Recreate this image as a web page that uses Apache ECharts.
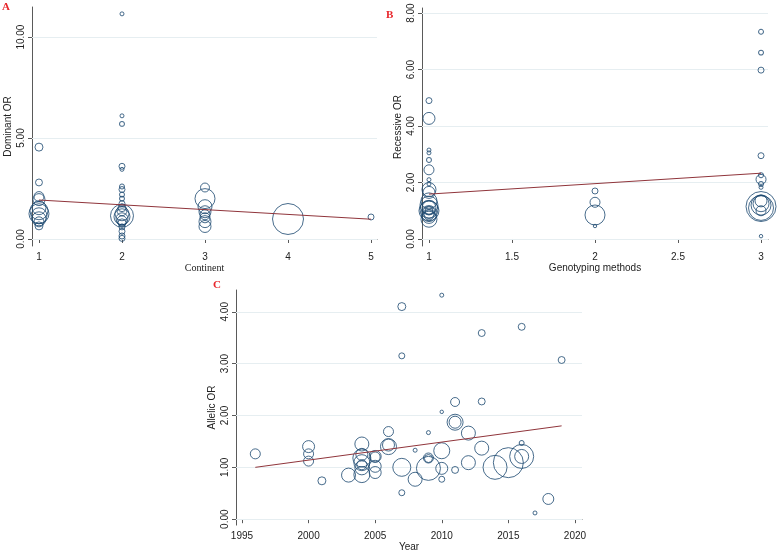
<!DOCTYPE html>
<html>
<head>
<meta charset="utf-8">
<title>Meta-regression bubble plots</title>
<script src="https://cdn.jsdelivr.net/npm/echarts@6/dist/echarts.min.js"></script>
<style>
  html, body { margin: 0; padding: 0; background: #fff; }
  #chart { width: 778px; height: 553px; }
</style>
</head>
<body>
<div id="chart"></div>
<script>
// 数据: A 面板 (Continent vs Dominant OR)
var contX = [1, 1, 1, 1, 1, 1, 1, 1, 1, 1, 1,
  2, 2, 2, 2, 2, 2, 2, 2, 2, 2, 2, 2, 2, 2, 2, 2, 2, 2, 2, 2, 2, 2,
  3, 3, 3, 3, 3, 3, 3, 3,
  4, 5];
var domOR = [4.55, 2.8, 2.1, 1.95, 1.55, 1.4, 1.25, 1.15, 1.0, 0.85, 0.65,
  11.15, 6.1, 5.7, 3.6, 3.45, 2.6, 2.45, 2.2, 2.0, 1.75, 1.55, 1.4, 1.25, 1.15, 1.1, 1.0, 0.9, 0.8, 0.6, 0.38, 0.15, 0.03,
  2.55, 2.0, 1.6, 1.35, 1.2, 1.05, 0.86, 0.62,
  0.99, 1.09];
var domW = [16, 12, 25, 36, 49, 81, 100, 64, 49, 25, 16,
  4, 4, 6, 9, 4, 6, 9, 6, 6, 9, 16, 25, 49, 132, 64, 36, 25, 16, 9, 9, 9, 9,
  20, 100, 49, 36, 25, 25, 36, 36,
  240, 9];
var domLine = [[1, 1.93], [5, 0.98]];

// 数据: B 面板 (Genotyping methods vs Recessive OR)
var genoX = [1, 1, 1, 1, 1, 1, 1, 1, 1, 1, 1, 1, 1, 1, 1, 1, 1, 1, 1, 1, 1,
  2, 2, 2, 2,
  3, 3, 3, 3, 3, 3, 3, 3, 3, 3, 3, 3, 3, 3, 3];
var recOR = [4.9, 4.27, 3.15, 3.05, 2.8, 2.45, 2.1, 1.95, 1.75, 1.65, 1.35, 1.2, 1.1, 1.05, 1.0, 0.95, 0.9, 0.85, 0.8, 0.7, 1.0,
  1.7, 1.3, 0.85, 0.46,
  7.34, 6.6, 5.98, 2.95, 2.26, 2.11, 1.95, 1.83, 1.15, 1.1, 1.2, 1.25, 1.0, 1.35, 0.1];
var recW = [9, 36, 4, 4, 6, 25, 4, 4, 49, 36, 64, 81, 49, 81, 100, 36, 64, 25, 49, 64, 16,
  9, 25, 100, 3,
  6, 6, 9, 9, 6, 25, 6, 4, 225, 156, 100, 64, 25, 36, 3];
var recLine = [[1, 1.59], [3, 2.33]];

// 数据: C 面板 (Year vs Allelic OR)
var yearX = [1996, 2000, 2000, 2000, 2001, 2003,
  2004, 2004, 2004, 2004, 2004, 2004, 2004,
  2005, 2005, 2005, 2005, 2006, 2006, 2006,
  2007, 2007, 2007, 2007, 2008, 2008,
  2009, 2009, 2009, 2009, 2010, 2010, 2010, 2010, 2010,
  2011, 2011, 2011, 2011, 2012, 2012, 2013, 2013, 2013,
  2014, 2015, 2016, 2016, 2016, 2016, 2017, 2018, 2019];
var alleOR = [1.26, 1.40, 1.26, 1.12, 0.74, 0.85,
  1.45, 1.18, 1.09, 0.99, 0.86, 1.25, 1.05,
  1.21, 1.02, 0.9, 1.2, 1.69, 1.40, 1.43,
  4.10, 3.15, 1.00, 0.51, 1.33, 0.77,
  1.67, 1.18, 1.17, 0.98, 4.32, 2.07, 1.32, 0.98, 0.77,
  2.26, 1.87, 1.87, 0.95, 1.66, 1.09, 3.59, 2.27, 1.37,
  1.00, 1.09, 3.71, 1.47, 1.21, 1.21, 0.12, 0.39, 3.07];
var alleW = [25, 36, 25, 25, 16, 49,
  49, 81, 64, 49, 64, 36, 25,
  36, 36, 36, 25, 25, 64, 36,
  16, 9, 81, 9, 4, 49,
  4, 25, 16, 144, 4, 3, 64, 36, 9,
  20, 64, 36, 12, 49, 49, 12, 12, 49,
  144, 225, 12, 6, 144, 49, 4, 30, 12];
var alleLine = [[1996, 1.0], [2019, 1.80]];

// 刻度
var domTicks = [0, 5, 10];
var recTicks = [0, 2, 4, 6, 8];
var alleTicks = [0, 1, 2, 3, 4];
var contTicks = [1, 2, 3, 4, 5];
var genoTicks = [1, 1.5, 2, 2.5, 3];
var yearTicks = [1995, 2000, 2005, 2010, 2015, 2020];

var BLUE = '#1a476f';
var RED = '#90353b';
var GRID = '#e6eef1';
var AXIS = '#5a5a5a';
var SANS = "'Liberation Sans', Arial, sans-serif";
var SERIF = "'Liberation Serif', 'Times New Roman', serif";

// 合并数组
var zip = function (xs, ys, ws) {
  var out = [];
  for (var i = 0; i < xs.length; i++) {
    out.push([xs[i], ys[i], ws[i]]);
  }
  return out;
};

// X 轴
var makeX = function (idx, min, max, ticks, name, nameFont) {
  return {
    type: 'value', gridIndex: idx, min: min, max: max,
    name: name, nameLocation: 'middle', nameGap: 16,
    nameTextStyle: { fontFamily: nameFont, fontSize: 10, color: '#222' },
    axisLine: { lineStyle: { color: AXIS, width: 1 } },
    axisTick: { customValues: ticks, length: 4, lineStyle: { color: AXIS } },
    axisLabel: {
      customValues: ticks, margin: 6, fontFamily: SANS, fontSize: 10, color: '#222',
      formatter: function (v) { return String(v); }
    },
    splitLine: { show: false }
  };
};

// Y 轴
var makeY = function (idx, min, max, ticks, name) {
  return {
    type: 'value', gridIndex: idx, min: min, max: max,
    name: name, nameLocation: 'middle', nameGap: 19, nameRotate: 90,
    nameTextStyle: { fontFamily: SANS, fontSize: 10, color: '#222' },
    axisLine: { lineStyle: { color: AXIS, width: 1 } },
    axisTick: { customValues: ticks, length: 4, lineStyle: { color: AXIS } },
    axisLabel: {
      customValues: ticks, rotate: 90, margin: 6, align: 'center', verticalAlign: 'bottom',
      fontFamily: SANS, fontSize: 10, color: '#222',
      formatter: function (v) { return v.toFixed(2); }
    },
    splitLine: { show: false }
  };
};

// 气泡系列
var bubbles = function (idx, data) {
  return {
    type: 'scatter', xAxisIndex: idx, yAxisIndex: idx, data: data,
    symbol: 'circle',
    symbolSize: function (v) { return Math.sqrt(v[2]) * 2; },
    itemStyle: { color: 'rgba(0,0,0,0)', borderColor: BLUE, borderWidth: 1 },
    emphasis: { disabled: true },
    silent: true, z: 3
  };
};

// 回归线 + 网格线
var fitLine = function (idx, data, ticks) {
  var marks = [];
  for (var i = 0; i < ticks.length; i++) {
    marks.push({ yAxis: ticks[i] });
  }
  return {
    type: 'line', xAxisIndex: idx, yAxisIndex: idx, data: data,
    symbol: 'none', lineStyle: { color: RED, width: 1 },
    silent: true, z: 4,
    markLine: {
      silent: true, symbol: 'none', label: { show: false },
      lineStyle: { color: GRID, width: 1, type: 'solid' },
      data: marks, z: 1
    }
  };
};

var panelLabel = function (text, left, top) {
  return {
    text: text, left: left, top: top, padding: 0,
    textStyle: { fontFamily: SERIF, fontSize: 11, fontWeight: 'bold', color: '#e8262b' }
  };
};

var chart = echarts.init(document.getElementById('chart'));
chart.setOption({
  animation: false,
  backgroundColor: '#fff',
  title: [panelLabel('A', 2, 2), panelLabel('B', 386, 10), panelLabel('C', 213, 280)],
  grid: [
    { left: 32, top: 7, width: 345, height: 239 },
    { left: 422, top: 8, width: 346, height: 238 },
    { left: 236, top: 290, width: 346, height: 238 }
  ],
  xAxis: [
    makeX(0, 0.916, 5.072, contTicks, 'Continent', SERIF),
    makeX(1, 0.958, 3.042, genoTicks, 'Genotyping methods', SANS),
    makeX(2, 1994.55, 2020.53, yearTicks, 'Year', SANS)
  ],
  yAxis: [
    makeY(0, -0.347, 11.49, domTicks, 'Dominant OR'),
    makeY(1, -0.248, 8.18, recTicks, 'Recessive OR'),
    makeY(2, -0.114, 4.42, alleTicks, 'Allelic OR')
  ],
  series: [
    bubbles(0, zip(contX, domOR, domW)),
    fitLine(0, domLine, domTicks),
    bubbles(1, zip(genoX, recOR, recW)),
    fitLine(1, recLine, recTicks),
    bubbles(2, zip(yearX, alleOR, alleW)),
    fitLine(2, alleLine, alleTicks)
  ]
});
</script>
</body>
</html>
